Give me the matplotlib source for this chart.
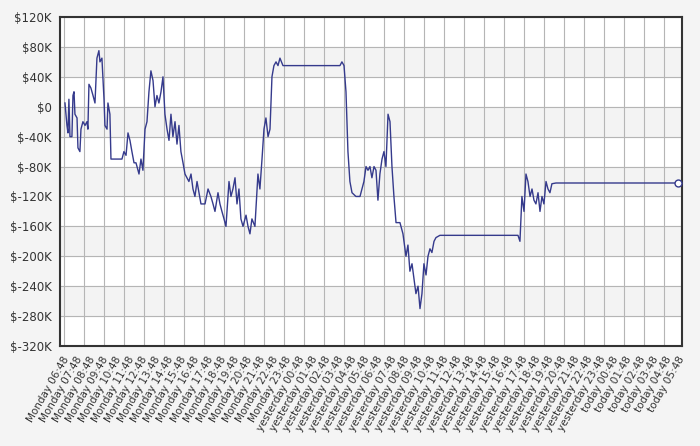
import matplotlib
matplotlib.use("Agg")
import matplotlib.pyplot as plt
import numpy as np

hours = [0.23,0.38,0.46,0.53,0.61,0.76,0.84,0.92,0.99,1.15,1.22,1.37,1.45,1.60,1.76,1.91,1.98,2.06,2.21,2.37,2.52,2.67,2.82,2.90,3.05,3.21,3.28,3.44,3.51,3.66,3.74,4.27,4.58,4.73,4.89,5.04,5.19,5.34,5.50,5.65,5.88,6.03,6.18,6.34,6.49,6.64,6.79,6.95,7.10,7.25,7.40,7.56,7.71,7.86,8.02,8.17,8.32,8.47,8.63,8.78,8.93,9.08,9.24,9.39,9.54,9.69,9.85,10.0,10.15,10.31,10.46,10.61,10.92,11.15,11.37,11.53,11.68,11.91,12.06,12.21,12.37,12.52,12.75,12.90,13.05,13.21,13.36,13.51,13.66,13.82,14.05,14.20,14.35,14.50,14.73,14.96,15.11,15.27,15.42,15.57,15.73,15.88,16.03,16.18,16.34,16.49,16.64,16.87,21.22,21.37,21.53,21.68,21.83,21.98,22.14,22.44,22.75,23.05,23.21,23.36,23.51,23.66,23.82,23.97,24.12,24.27,24.43,24.58,24.73,24.89,25.04,25.19,25.34,25.50,25.80,26.03,26.26,26.41,26.56,26.72,26.87,27.02,27.18,27.33,27.48,27.63,27.79,27.94,28.09,28.24,28.40,28.55,28.85,34.81,34.96,35.11,35.27,35.42,35.57,35.73,35.88,36.03,36.18,36.34,36.49,36.64,36.79,36.95,37.10,37.25,37.40,37.71,47.0]
values_k = [5,-25,-35,10,-40,-40,15,20,-10,-15,-55,-60,-30,-20,-25,-20,-30,30,25,15,5,65,75,60,65,10,-25,-30,5,-10,-70,-70,-70,-60,-65,-35,-45,-60,-75,-75,-90,-70,-85,-30,-20,20,48,35,0,15,5,20,40,-10,-30,-45,-10,-40,-20,-50,-25,-60,-75,-90,-95,-100,-90,-110,-120,-100,-115,-130,-130,-110,-120,-130,-140,-115,-130,-140,-150,-160,-100,-120,-110,-95,-130,-110,-150,-160,-145,-160,-170,-150,-160,-90,-110,-70,-30,-15,-40,-30,40,55,60,55,65,55,55,60,55,20,-60,-100,-115,-120,-120,-100,-80,-85,-80,-95,-80,-85,-125,-90,-70,-60,-80,-10,-20,-80,-120,-155,-155,-170,-200,-185,-220,-210,-230,-250,-240,-270,-250,-210,-225,-200,-190,-195,-180,-175,-172,-172,-180,-120,-140,-90,-100,-120,-110,-125,-130,-115,-140,-120,-130,-100,-110,-115,-103,-102,-102]

tick_labels = ([f"Monday {h:02d}:48" for h in range(6, 24)] +
               [f"yesterday {h:02d}:48" for h in range(0, 24)] +
               [f"today {h:02d}:48" for h in range(0, 6)])
y_ticks = list(range(-320, 121, 40))

fig = plt.figure(figsize=(7, 4.46), dpi=100, facecolor="#f4f4f4")
ax = fig.add_axes([60/700, 1-346/446, 622/700, 329/446])
ax.set_facecolor("white")
xmin, xmax = -0.15, 47.33
ax.set_xlim(xmin, xmax)
ax.set_ylim(-320, 120)
for i, y0 in enumerate(y_ticks[:-1]):
    if i % 2 == 1:
        ax.axhspan(y0, y0 + 40, color="#f3f3f3", zorder=0)
for y in y_ticks:
    ax.axhline(y, color="#b5b5b5", lw=0.8, zorder=1)
step = 20*(xmax-xmin)/622
for x in np.arange(xmin + step*0.2, xmax, step):
    ax.axvline(x, color="#b5b5b5", lw=0.8, zorder=1)

ax.plot(hours, values_k, color="#353a8c", lw=1.0, zorder=3)
ax.plot([hours[-1]], [values_k[-1]], 'o', ms=5, mfc="white", mec="#353a8c", mew=1, zorder=4, clip_on=False)

ax.set_yticks(y_ticks)
ax.set_yticklabels([f"${v}K" if v != 0 else "$0" for v in y_ticks], fontsize=8.5, color="#333333")
ax.set_xticks(range(len(tick_labels)))
ax.set_xticklabels(tick_labels, rotation=60, ha="right", rotation_mode="anchor", fontsize=7.5, color="#333333")
ax.tick_params(length=0, pad=6)
for s in ax.spines.values():
    s.set_linewidth(1.5)
    s.set_color("#333333")
fig.savefig("out.png", dpi=100, facecolor=fig.get_facecolor())
